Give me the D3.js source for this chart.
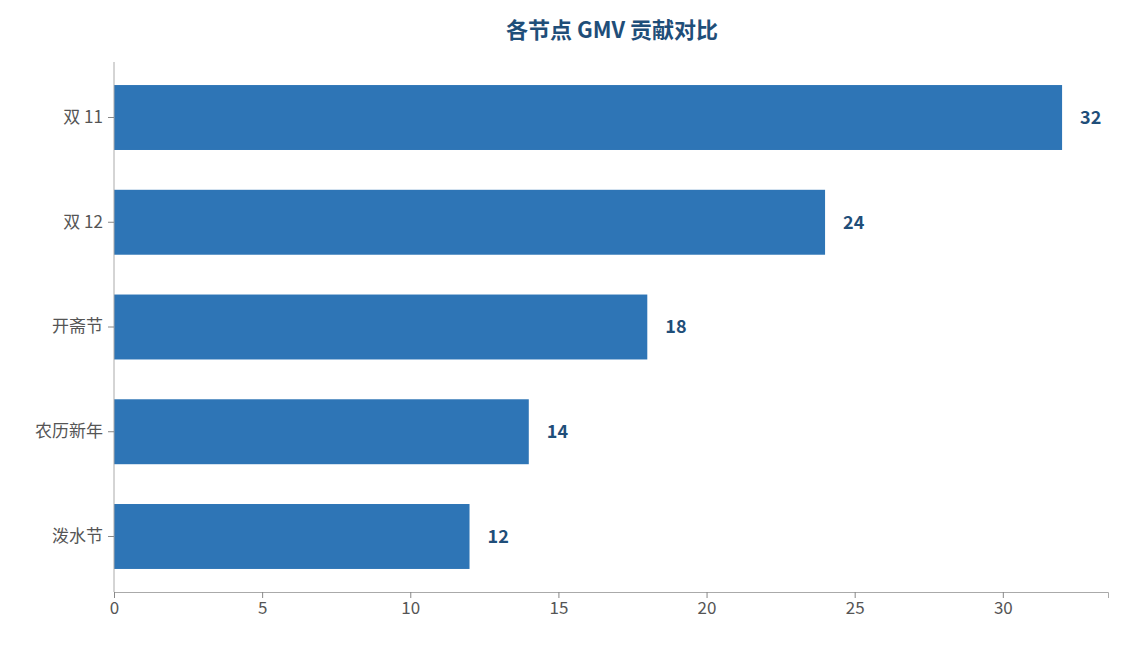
<!DOCTYPE html>
<html><head><meta charset="utf-8">
<script src="https://cdn.jsdelivr.net/npm/d3@7"></script>
<style>body{margin:0;background:#fff;font-family:"Noto Sans CJK SC","Noto Sans",sans-serif;}</style>
</head><body><svg id="c" width="1124" height="645"></svg>
<script>
const categories = ["双 11","双 12","开斋节","农历新年","泼水节"];
const values = [32,24,18,14,12];
const xTicks = [0,5,10,15,20,25,30];
const title = "各节点 GMV 贡献对比";

const svg = d3.select("#c");
const m = {l:114, r:1108, t:62, b:592};
const x = d3.scaleLinear().domain([0,33.55]).range([m.l,m.r]);
const y = d3.scaleBand().domain(categories).range([m.t,m.b]).paddingInner(0.38).paddingOuter(0.22);

svg.append("text").attr("x",612).attr("y",38).attr("text-anchor","middle")
  .attr("font-size",22).attr("font-weight","bold").attr("fill","#1f4e79").text(title);

svg.selectAll("rect.bar").data(values).join("rect").attr("class","bar")
  .attr("x",x(0)).attr("y",(d,i)=>y(categories[i])).attr("width",d=>x(d)-x(0))
  .attr("height",y.bandwidth()).attr("fill","#2e75b6");

svg.selectAll("text.val").data(values).join("text").attr("class","val")
  .attr("x",d=>x(d)+18).attr("y",(d,i)=>y(categories[i])+y.bandwidth()/2)
  .attr("dy","0.35em").attr("font-size",18).attr("font-weight","bold").attr("fill","#1f4e79").text(d=>d);

const xa = svg.append("g").attr("transform",`translate(0,${m.b})`)
  .call(d3.axisBottom(x).tickValues(xTicks).tickSizeOuter(0).tickSize(6).tickPadding(4));
const ya = svg.append("g").attr("transform",`translate(${m.l},0)`)
  .call(d3.axisLeft(y).tickSizeOuter(0).tickSize(6).tickPadding(5));
[xa,ya].forEach(a=>{
  a.select(".domain").attr("stroke","#aaa");
  a.selectAll(".tick line").attr("stroke","#888");
  a.selectAll(".tick text").attr("fill","#555").attr("font-size",17).attr("font-family",'"Noto Sans CJK SC","Noto Sans",sans-serif');
});
ya.select(".domain").attr("d",`M0,${m.t}V${m.b}`);
</script></body></html>
